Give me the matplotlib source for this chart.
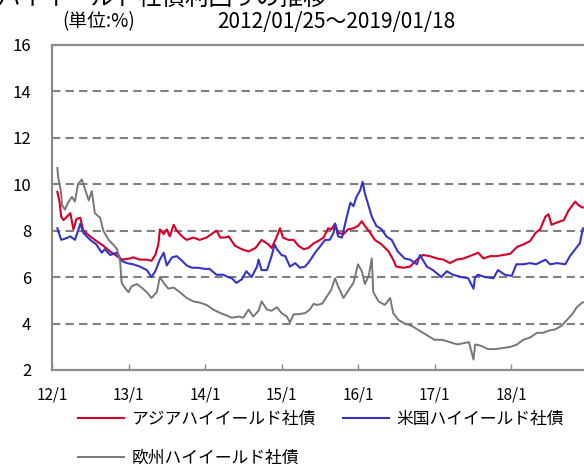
import matplotlib
matplotlib.use('Agg')
import matplotlib.pyplot as plt

plt.rcParams['font.family'] = ['Noto Sans CJK JP', 'DejaVu Sans']

# year fraction (2012 = 0) and yield in %
asia_t = [0.07, 0.10, 0.12, 0.15, 0.24, 0.28, 0.32, 0.37, 0.41, 0.50, 0.58, 0.67, 0.76, 0.85, 0.91,
          1.02, 1.06, 1.15, 1.24, 1.30, 1.35, 1.39, 1.41, 1.46, 1.50, 1.54, 1.59, 1.63, 1.70, 1.76,
          1.85, 1.93, 2.02, 2.15, 2.20, 2.26, 2.31, 2.39, 2.48, 2.57, 2.66, 2.74, 2.83, 2.87, 2.94,
          2.98, 3.02, 3.09, 3.16, 3.22, 3.29, 3.35, 3.42, 3.48, 3.55, 3.61, 3.65, 3.70, 3.74, 3.81,
          3.87, 3.94, 4.00, 4.05, 4.09, 4.16, 4.22, 4.31, 4.40, 4.46, 4.50, 4.59, 4.68, 4.77, 4.85,
          4.94, 5.03, 5.12, 5.20, 5.29, 5.38, 5.46, 5.57, 5.64, 5.73, 5.81, 5.90, 5.99, 6.08, 6.16,
          6.25, 6.32, 6.38, 6.45, 6.49, 6.53, 6.60, 6.69, 6.75, 6.84, 6.88, 6.93, 7.05]
asia = [9.67, 9.2, 8.6, 8.45, 8.75, 8.05, 8.5, 8.55, 8.0, 7.75, 7.55, 7.35, 7.1, 6.9, 6.75,
        6.8, 6.85, 6.75, 6.75, 6.7, 6.95, 7.4, 8.05, 7.85, 8.05, 7.75, 8.25, 8.0, 7.75, 7.6,
        7.7, 7.6, 7.7, 8.0, 7.7, 7.7, 7.75, 7.35, 7.2, 7.1, 7.25, 7.6, 7.4, 7.25, 7.75,
        8.1, 7.7, 7.6, 7.6, 7.35, 7.2, 7.25, 7.45, 7.55, 7.7, 8.1, 8.05, 8.3, 7.9, 7.85,
        8.05, 8.1, 8.2, 8.4, 8.2, 7.9, 7.6, 7.4, 7.1, 6.75, 6.45, 6.4, 6.45, 6.75, 6.95,
        6.9, 6.8, 6.75, 6.6, 6.75, 6.8, 6.9, 7.05, 6.8, 6.9, 6.9, 6.95, 7.0, 7.3, 7.4,
        7.55, 7.9, 8.05, 8.6, 8.7, 8.25, 8.35, 8.45, 8.85, 9.25, 9.1, 9.0, 8.95]

us_t = [0.07, 0.10, 0.12, 0.17, 0.24, 0.30, 0.37, 0.41, 0.50, 0.58, 0.65, 0.69, 0.76, 0.85, 0.91,
        0.98, 1.06, 1.15, 1.24, 1.30, 1.35, 1.41, 1.46, 1.50, 1.57, 1.63, 1.70, 1.76, 1.83, 1.91,
        2.00, 2.06, 2.15, 2.24, 2.30, 2.35, 2.41, 2.48, 2.54, 2.61, 2.68, 2.70, 2.74, 2.81, 2.87,
        2.91, 2.94, 3.00, 3.05, 3.11, 3.18, 3.24, 3.31, 3.37, 3.44, 3.50, 3.57, 3.63, 3.68, 3.70,
        3.74, 3.79, 3.85, 3.90, 3.94, 3.98, 4.03, 4.06, 4.09, 4.14, 4.18, 4.24, 4.31, 4.37, 4.44,
        4.52, 4.61, 4.68, 4.77, 4.81, 4.90, 4.98, 5.09, 5.16, 5.24, 5.35, 5.44, 5.51, 5.53, 5.57,
        5.66, 5.77, 5.83, 5.92, 6.01, 6.07, 6.16, 6.25, 6.33, 6.45, 6.51, 6.60, 6.71, 6.77, 6.84,
        6.90, 6.94, 7.05]
us = [8.1, 7.8, 7.6, 7.65, 7.75, 7.6, 8.3, 7.9, 7.6, 7.4, 7.05, 7.2, 6.95, 7.05, 6.7,
      6.6, 6.55, 6.45, 6.3, 6.0, 6.25, 6.75, 7.05, 6.5, 6.85, 6.9, 6.7, 6.5, 6.4, 6.4,
      6.35, 6.35, 6.1, 6.1, 6.0, 5.95, 5.75, 5.9, 6.25, 6.0, 6.45, 6.75, 6.3, 6.3, 6.9,
      7.4, 7.2, 6.95, 6.9, 6.45, 6.6, 6.4, 6.45, 6.7, 7.05, 7.3, 7.6, 7.6, 7.9, 8.3,
      7.75, 7.7, 8.55, 9.2, 9.05, 9.45, 9.75, 10.1, 9.6, 9.05, 8.6, 8.2, 8.05, 7.75, 7.6,
      7.1, 6.8, 6.75, 6.55, 6.95, 6.45, 6.3, 6.0, 6.25, 6.1, 6.0, 5.95, 5.5, 6.0, 6.1,
      6.0, 5.95, 6.3, 6.1, 6.05, 6.55, 6.55, 6.6, 6.55, 6.75, 6.55, 6.6, 6.55, 6.9, 7.2,
      7.45, 8.1, 8.0]

eu_t = [0.07, 0.08, 0.10, 0.12, 0.13, 0.17, 0.21, 0.26, 0.30, 0.34, 0.39, 0.43, 0.48, 0.52, 0.56,
        0.63, 0.67, 0.74, 0.80, 0.85, 0.89, 0.91, 0.95, 1.00, 1.04, 1.11, 1.17, 1.24, 1.30, 1.37,
        1.41, 1.46, 1.52, 1.59, 1.67, 1.76, 1.85, 1.93, 2.02, 2.11, 2.20, 2.28, 2.35, 2.44, 2.50,
        2.57, 2.63, 2.70, 2.74, 2.81, 2.87, 2.94, 3.00, 3.07, 3.11, 3.16, 3.22, 3.31, 3.37, 3.42,
        3.46, 3.53, 3.59, 3.65, 3.70, 3.74, 3.81, 3.87, 3.94, 4.00, 4.05, 4.09, 4.14, 4.18, 4.20,
        4.27, 4.35, 4.42, 4.46, 4.53, 4.61, 4.70, 4.80, 4.90, 5.00, 5.10, 5.20, 5.30, 5.45, 5.51,
        5.53, 5.60, 5.70, 5.80, 5.90, 6.00, 6.08, 6.16, 6.25, 6.34, 6.42, 6.50, 6.58, 6.66, 6.73,
        6.80, 6.86, 6.93, 7.05]
eu = [10.7, 10.3, 10.0, 9.6, 9.1, 8.9, 9.2, 9.45, 9.25, 10.0, 10.2, 9.8, 9.3, 9.7, 8.75,
      8.55, 8.0, 7.6, 7.4, 7.2, 6.7, 5.75, 5.55, 5.35, 5.6, 5.7, 5.55, 5.35, 5.1, 5.35,
      6.0, 5.75, 5.5, 5.55, 5.35, 5.1, 4.95, 4.9, 4.8, 4.6, 4.45, 4.35, 4.25, 4.3, 4.25,
      4.6, 4.3, 4.55, 4.95, 4.6, 4.55, 4.7, 4.45, 4.3, 4.05, 4.4, 4.4, 4.45, 4.6, 4.85,
      4.8, 4.85, 5.15, 5.45, 5.95, 5.6, 5.1, 5.4, 5.75, 6.55, 6.25, 5.7, 6.05, 6.8, 5.35,
      4.95, 4.8, 5.1, 4.45, 4.15, 4.0, 3.9, 3.7, 3.5, 3.3, 3.3, 3.2, 3.1, 3.2, 2.45,
      3.1, 3.05, 2.9, 2.9, 2.95, 3.0, 3.1, 3.3, 3.4, 3.6, 3.6, 3.7, 3.75, 3.9, 4.15,
      4.4, 4.7, 4.9, 5.0]

labels = ['アジアハイイールド社債', '米国ハイイールド社債', '欧州ハイイールド社債']
year_ticks = [0, 1, 2, 3, 4, 5, 6]
year_labels = ['12/1', '13/1', '14/1', '15/1', '16/1', '17/1', '18/1']

fig = plt.figure(figsize=(5.84, 4.70), dpi=100)
ax = fig.add_axes([52 / 584, 100 / 470, 540 / 584, 325.3 / 470])

l_asia, = ax.plot(asia_t, asia, color='#d4002a', lw=1.5, label=labels[0])
l_us, = ax.plot(us_t, us, color='#3434c8', lw=1.5, label=labels[1])
l_eu, = ax.plot(eu_t, eu, color='#777777', lw=1.4, label=labels[2])

ax.set_xlim(0, 540 / 76.5)
ax.set_ylim(2, 16)
ax.set_yticks(range(2, 17, 2))
ax.set_xticks(year_ticks)
ax.set_xticklabels(year_labels)

for y in range(4, 16, 2):
    ax.axhline(y, color='#808080', lw=1.5, ls=(0, (4, 2.5)), zorder=0)

for side in ['left', 'bottom', 'top']:
    ax.spines[side].set_color('#8c8c8c')
    ax.spines[side].set_linewidth(1.6)
ax.spines['right'].set_visible(False)

ax.tick_params(axis='y', length=0, pad=15, labelsize=12)
ax.tick_params(axis='x', direction='in', length=4, width=1, color='#8c8c8c', pad=12, labelsize=11)

fig.text(-4 / 584, 1 + 2 / 470, 'ハイイールド社債利回りの推移', fontsize=17, ha='left', va='center')
fig.text(62 / 584, 1 - 22 / 470, '(単位:%)', fontsize=13.5, ha='left', va='center')
fig.text(336 / 584, 1 - 22 / 470, '2012/01/25〜2019/01/18', fontsize=15, ha='center', va='center')

fig.legend([l_asia, l_eu, l_us], [labels[0], labels[2], labels[1]], ncol=2,
           loc='upper left', bbox_to_anchor=(78 / 584, 1 - 411 / 470),
           frameon=False, fontsize=12.1, handlelength=2.75, handletextpad=0.45,
           columnspacing=1.6, labelspacing=1.3, borderpad=0, borderaxespad=0)

fig.savefig('out.png', dpi=100)
